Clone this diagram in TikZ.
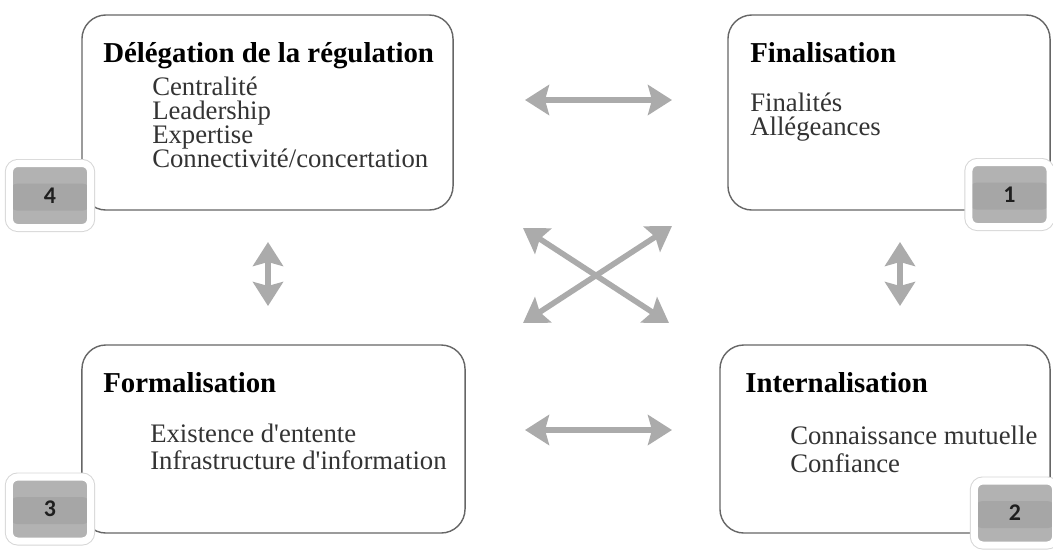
\documentclass[tikz,border=0pt]{standalone}
\usepackage{fontspec}
\setmainfont{Liberation Serif}
\newfontfamily\badgefont{Carlito}
\usetikzlibrary{positioning,arrows.meta,shadows}
\newcommand{\itemfont}{\fontsize{19}{17}\selectfont\setlength{\lineskiplimit}{-20pt}}

\begin{document}
\begin{tikzpicture}[
  x=0.025cm, y=-0.025cm,
  box/.style={draw=black!60, line width=1pt, rounded corners=6mm, fill=white},
  head/.style={anchor=base west, inner sep=0pt, font=\fontsize{20.5}{24}\selectfont\bfseries},
  items/.style={anchor=north west, align=left, inner sep=0pt, text=black!80, font=\itemfont},
  badge/.style={draw=white, line width=5pt, rounded corners=6pt, minimum width=2.03cm, minimum height=1.6cm,
    fill=black!30, text=black!88, font=\badgefont\bfseries\fontsize{17}{20}\selectfont,
    preaction={draw=black!16, line width=6.4pt},
    path picture={\fill[black!35] ([yshift=-0.5cm]path picture bounding box.north west)
      rectangle ([yshift=0.42cm]path picture bounding box.south east);},
    drop shadow={opacity=0.4, shadow xshift=0.9pt, shadow yshift=-0.9pt}},
  arr/.style={{Stealth[length=6mm,width=7.5mm,inset=1mm]}-{Stealth[length=6mm,width=7.5mm,inset=1mm]}, line width=4pt, draw=black!33}
]
\useasboundingbox (0,0) rectangle (1053,549);

% the four boxes
\node[box, minimum width=9.275cm, minimum height=4.875cm] (deleg) at (267.5,112.5) {};
\node[box, minimum width=8.05cm, minimum height=4.875cm] (final) at (889,112.5) {};
\node[box, minimum width=9.575cm, minimum height=4.7cm] (formal) at (273.5,439) {};
\node[box, minimum width=8.25cm, minimum height=4.7cm] (intern) at (885,439) {};

% texts
\node[head] (delegT) at (103,62) {Délégation de la régulation};
\node[items] (delegL) at (152,77) {Centralité\\Leadership\\Expertise\\Connectivité/concertation};
\node[head] (finalT) at (750,62) {Finalisation};
\node[items] (finalL) at (750,93) {Finalités\\Allégeances};
\node[head] (formalT) at (103,392) {Formalisation};
\node[items] (formalL) at (150,424) {Existence d\textquotesingle entente\\[2.2pt]Infrastructure d\textquotesingle information};
\node[head] (internT) at (745,392) {Internalisation};
\node[items] (internL) at (790,426) {Connaissance mutuelle\\[3pt]Confiance};

% badges
\node[badge] (n4) at (50,195.5) {4};
\node[badge] (n1) at (1009.5,194.5) {1};
\node[badge] (n3) at (50,509) {3};
\node[badge] (n2) at (1015,513) {2};

% arrows
\coordinate (topL) at (525,100);
\coordinate (topR) at (672,100);
\coordinate (botL) at (525,430);
\coordinate (botR) at (672,430);
\coordinate (leftU) at (268,242);
\coordinate (leftD) at (268,306);
\coordinate (rightU) at (900,242);
\coordinate (rightD) at (900,306);
\coordinate (crossA) at (523,228);
\coordinate (crossB) at (669,323);
\coordinate (crossC) at (523,323);
\coordinate (crossD) at (672,226);
\draw[arr] (topL) -- (topR);
\draw[arr] (botL) -- (botR);
\draw[arr] (leftU) -- (leftD);
\draw[arr] (rightU) -- (rightD);
\draw[arr] (crossA) -- (crossB);
\draw[arr] (crossC) -- (crossD);
\end{tikzpicture}
\end{document}
